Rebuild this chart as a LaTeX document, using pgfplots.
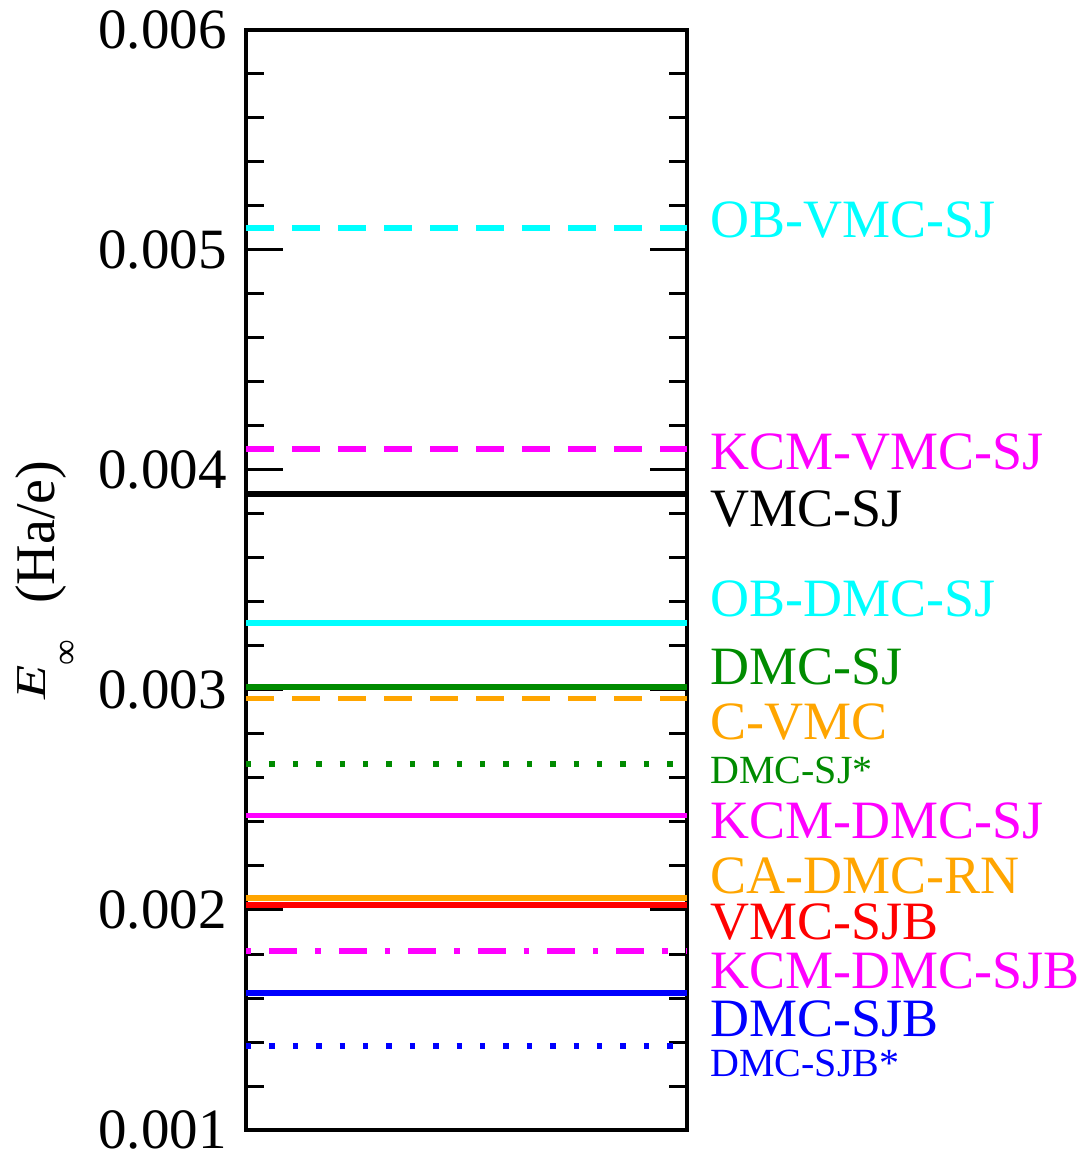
\documentclass[border=0pt]{standalone}
\usepackage{fontspec}
\setmainfont{Liberation Serif}
\usepackage{graphicx}
\usepackage{pgfplots}
\pgfplotsset{compat=1.18}
\definecolor{cgreen}{RGB}{0,139,0}
\definecolor{corange}{RGB}{255,165,0}
\definecolor{ccyan}{RGB}{0,255,255}
\definecolor{cmag}{RGB}{255,0,255}
\definecolor{cred}{RGB}{255,0,0}
\definecolor{cblue}{RGB}{0,0,255}
\begin{document}
\begin{tikzpicture}
\useasboundingbox (-123pt,-12pt) rectangle (416pt,565pt);
\begin{axis}[
  at={(0,0)}, anchor=south west,
  scale only axis, width=220.5pt, height=550pt,
  xmin=0, xmax=1, ymin=0.001, ymax=0.006,
  xtick=\empty,
  ytick={0.001,0.002,0.003,0.004,0.005,0.006},
  minor y tick num=4,
  scaled y ticks=false,
  yticklabel style={/pgf/number format/fixed, /pgf/number format/precision=3,
    /pgf/number format/fixed zerofill, /pgf/number format/assume math mode=true,
    font=\fontsize{28.5}{28.5}\selectfont, inner sep=0pt, xshift=-9.5pt},
  axis line style={line width=1.7pt},
  major tick length=18.5pt, minor tick length=9pt,
  every tick/.style={black, line width=1.5pt},
  clip=false,
]
\addplot[ccyan, line width=2.7pt, dash pattern=on 14pt off 9pt] coordinates {(0,0.0051) (1,0.0051)};
\addplot[cmag, line width=2.7pt, dash pattern=on 14pt off 9pt] coordinates {(0,0.004095) (1,0.004095)};
\addplot[black, line width=2.7pt] coordinates {(0,0.00389) (1,0.00389)};
\addplot[ccyan, line width=2.7pt] coordinates {(0,0.003305) (1,0.003305)};
\addplot[cgreen, line width=2.7pt] coordinates {(0,0.003014) (1,0.003014)};
\addplot[corange, line width=2.7pt, dash pattern=on 14pt off 9pt] coordinates {(0,0.00296) (1,0.00296)};
\addplot[cgreen, line width=2.7pt, dash pattern=on 2.7pt off 9pt] coordinates {(0,0.002664) (1,0.002664)};
\addplot[cmag, line width=2.7pt] coordinates {(0,0.00243) (1,0.00243)};
\addplot[corange, line width=2.7pt] coordinates {(0,0.002055) (1,0.002055)};
\addplot[cred, line width=2.7pt] coordinates {(0,0.002023) (1,0.002023)};
\addplot[cmag, line width=2.7pt, dash pattern=on 2.7pt off 9pt on 14pt off 9pt] coordinates {(0,0.001814) (1,0.001814)};
\addplot[cblue, line width=2.7pt] coordinates {(0,0.001623) (1,0.001623)};
\addplot[cblue, line width=2.7pt, dash pattern=on 2.7pt off 9pt] coordinates {(0,0.001382) (1,0.001382)};

\begin{scope}[every node/.style={anchor=base west, inner sep=0pt, xshift=11.5pt, font=\fontsize{27}{27}\selectfont}]
\node[text=ccyan] at (axis cs:1,0.005059) {OB-VMC-SJ};
\node[text=cmag] at (axis cs:1,0.004) {KCM-VMC-SJ};
\node[text=black] at (axis cs:1,0.003741) {VMC-SJ};
\node[text=ccyan] at (axis cs:1,0.003336) {OB-DMC-SJ};
\node[text=cgreen] at (axis cs:1,0.003027) {DMC-SJ};
\node[text=corange] at (axis cs:1,0.002773) {C-VMC};
\node[text=cgreen, font=\fontsize{20}{20}\selectfont] at (axis cs:1,0.002573) {DMC-SJ*};
\node[text=cmag] at (axis cs:1,0.002327) {KCM-DMC-SJ};
\node[text=corange] at (axis cs:1,0.002077) {CA-DMC-RN};
\node[text=cred] at (axis cs:1,0.001868) {VMC-SJB};
\node[text=cmag] at (axis cs:1,0.001641) {KCM-DMC-SJB};
\node[text=cblue] at (axis cs:1,0.001423) {DMC-SJB};
\node[text=cblue, font=\fontsize{20}{20}\selectfont] at (axis cs:1,0.001241) {DMC-SJB*};
\end{scope}
\end{axis}
\node[rotate=90, anchor=base west, inner sep=0pt, font=\fontsize{28}{28}\selectfont] at (-95.5pt,215pt)
  {\raisebox{4.5pt}{\scalebox{1}[0.76]{\textit{E}}}\raisebox{-11.5pt}{\fontsize{18}{18}\selectfont ∞}\hspace{18pt}(Ha/e)};
\end{tikzpicture}
\end{document}
